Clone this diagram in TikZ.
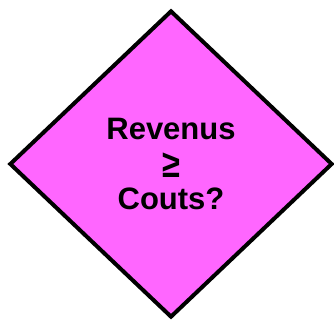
\documentclass[tikz,border=0pt]{standalone}
\usepackage{fontspec}
\setmainfont{Liberation Sans}
\usetikzlibrary{shapes.geometric}
\definecolor{decisionfill}{HTML}{FF66FF}

\begin{document}
\begin{tikzpicture}[x=1pt, y=1pt,
      decision/.style={diamond, draw=black, fill=decisionfill, line width=4pt,
                   minimum width=323pt, minimum height=307pt, inner sep=0pt,
                   align=center, font=\fontsize{31}{35}\selectfont\bfseries}
    ]
    \useasboundingbox (0,0) rectangle (334,323);
    \node[decision] (test) at (171,159) {Revenus\\ \raisebox{-3pt}{\scalebox{1.05}[1.25]{≥}}\\ Couts?};
  \end{tikzpicture}
\end{document}
